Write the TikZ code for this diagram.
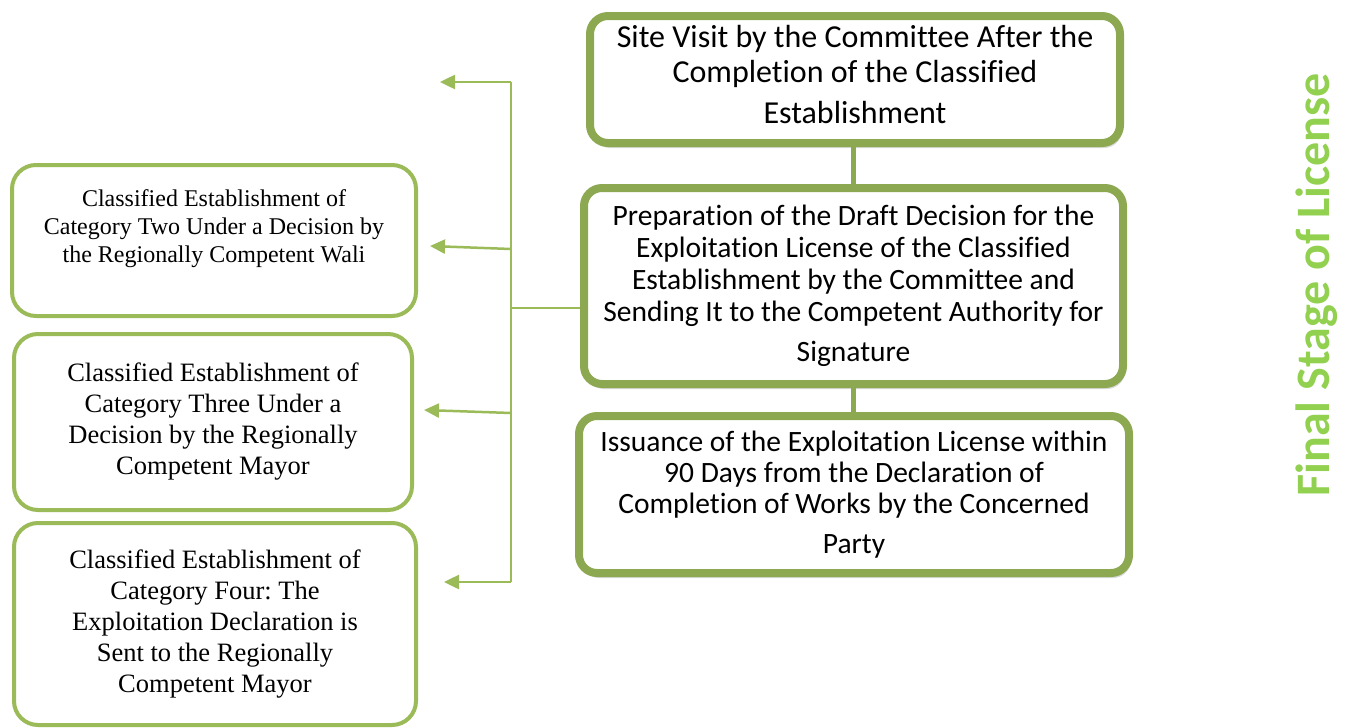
\documentclass[tikz,border=0pt]{standalone}
\usepackage{fontspec}
\setmainfont{Liberation Serif}
\newfontfamily\carlitofont[Ligatures=NoCommon]{Carlito}
\frenchspacing
\usetikzlibrary{arrows.meta,shadows}
\definecolor{boxgreen}{HTML}{8CA952}
\definecolor{lightgreen}{HTML}{9BBB59}
\definecolor{titlegreen}{HTML}{92D050}
\tikzset{
  mainbox/.style={draw=boxgreen, line width=8pt, rounded corners=18pt, fill=white,
    align=center, inner sep=0pt,
    drop shadow={shadow xshift=2pt, shadow yshift=-5pt, opacity=0.25, fill=black!60},
    font=\carlitofont\fontsize{29.5}{32}\selectfont},
  sidebox/.style={draw=lightgreen, line width=4pt, rounded corners=24pt, fill=white,
    align=center, inner sep=0pt},
  link/.style={draw=boxgreen, line width=5pt},
  branch/.style={draw=lightgreen, line width=2.5pt},
  arr/.style={branch, -{Triangle[length=15pt,width=14pt]}},
}
\begin{document}
\begin{tikzpicture}[x=1pt,y=1pt]
\useasboundingbox (0,0) rectangle (1345,-728);

% main column
\node[mainbox, minimum width=530pt, minimum height=127pt, font=\carlitofont\fontsize{32}{35}\selectfont] (b1) at (855,-79.5)
  {Site Visit by the Committee After the\\ Completion of the Classified\\[6pt] Establishment\rule[-10pt]{0pt}{0pt}};
\node[mainbox, minimum width=539pt, minimum height=196pt] (b2) at (853.5,-286)
  {Preparation of the Draft Decision for the\\ Exploitation License of the Classified\\ Establishment by the Committee and\\ Sending It to the Competent Authority for\\[8pt] Signature};
\node[mainbox, minimum width=550pt, minimum height=157pt, font=\carlitofont\fontsize{29.5}{31}\selectfont] (b3) at (854,-494.5)
  {Issuance of the Exploitation License within\\ 90 Days from the Declaration of\\ Completion of Works by the Concerned\\[9pt] Party};

\draw[link] (b1.south -| 853,0) -- (b2.north -| 853,0);
\draw[link] (b2.south -| 853,0) -- (b3.north -| 853,0);

% side boxes
\node[sidebox, minimum width=404pt, minimum height=151pt, font=\fontsize{24}{28}\selectfont] (s1) at (214,-240.5)
  {Classified Establishment of\\ Category Two Under a Decision by\\ the Regionally Competent Wali\\ ~};
\node[sidebox, minimum width=398pt, minimum height=176pt, font=\fontsize{26.5}{31}\selectfont] (s2) at (213,-422)
  {Classified Establishment of\\ Category Three Under a\\ Decision by the Regionally\\ Competent Mayor};
\node[sidebox, minimum width=402pt, minimum height=202pt, font=\fontsize{26.5}{31}\selectfont] (s3) at (215,-624)
  {Classified Establishment of\\ Category Four: The\\ Exploitation Declaration is\\ Sent to the Regionally\\ Competent Mayor};

% branching arrows
\coordinate (j) at (511,-308);
\coordinate (top) at (511,-82);
\coordinate (bot) at (511,-582);
\coordinate (t1) at (440,-82);
\coordinate (f2) at (511,-249);
\coordinate (t2) at (430,-246);
\coordinate (f3) at (511,-413);
\coordinate (t3) at (424,-410);
\coordinate (t4) at (444,-582);

\draw[branch] (b2.west |- j) -- (j);
\draw[branch] (top) -- (bot);
\draw[arr] (top) -- (t1);
\draw[arr] (f2) -- (t2);
\draw[arr] (f3) -- (t3);
\draw[arr] (bot) -- (t4);

% vertical title
\node[rotate=90, text=titlegreen, font=\carlitofont\bfseries\fontsize{48}{56}\selectfont] (title) at (1317,-285) {Final Stage of License};
\end{tikzpicture}
\end{document}
